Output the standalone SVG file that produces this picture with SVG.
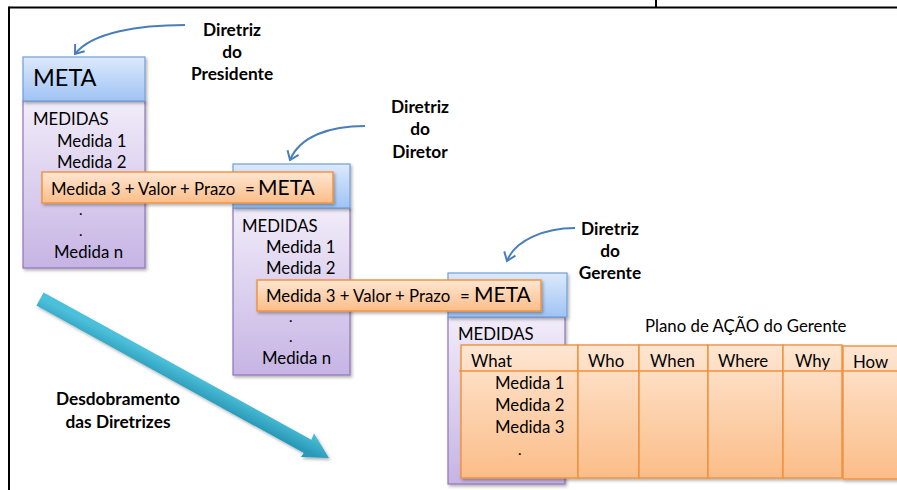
<svg xmlns="http://www.w3.org/2000/svg" width="897" height="490" viewBox="0 0 897 490">
<defs>
<linearGradient id="gBlue" x1="0" y1="0" x2="0" y2="1"><stop offset="0" stop-color="#dde9fc"/><stop offset="1" stop-color="#9fc3f4"/></linearGradient>
<linearGradient id="gPurple" x1="0" y1="0" x2="0" y2="1"><stop offset="0" stop-color="#f1ecf9"/><stop offset="1" stop-color="#c6b4e4"/></linearGradient>
<linearGradient id="gOrange" x1="0" y1="0" x2="0" y2="1"><stop offset="0" stop-color="#fee6d2"/><stop offset="1" stop-color="#fbbd88"/></linearGradient>
<linearGradient id="gTeal" gradientUnits="userSpaceOnUse" x1="180" y1="368" x2="172" y2="384"><stop offset="0" stop-color="#4cc0da"/><stop offset="1" stop-color="#2a9ab8"/></linearGradient>
<filter id="sh" x="-10%" y="-10%" width="130%" height="130%"><feDropShadow dx="1.5" dy="2" stdDeviation="1.5" flood-color="#000" flood-opacity="0.3"/></filter>
<marker id="ah" markerWidth="14" markerHeight="14" refX="10" refY="7" orient="auto" markerUnits="userSpaceOnUse"><path d="M2,1 L10,7 L2,13" fill="none" stroke="#4a7ebb" stroke-width="2"/></marker>
</defs>
<style>
.hdr{fill:url(#gBlue);stroke:#6f9fd8;stroke-width:1.2}
.body{fill:url(#gPurple);stroke:#8f74ba;stroke-width:1.2}
.bar{fill:url(#gOrange);stroke:#f0913e;stroke-width:1.4}
.col{fill:url(#gOrange);stroke:#f0913e;stroke-width:1.4}
.t{font-family:Lato,"Open Sans",sans-serif;font-size:16.8px;fill:#000}
.dot{font-family:Lato,"Open Sans",sans-serif;font-size:15px;fill:#000}
.big{font-family:Lato,"Open Sans",sans-serif;font-size:23.5px;fill:#000}
.meta{font-family:Lato,"Open Sans",sans-serif;font-size:21px;fill:#000}
.b{font-family:Lato,"Open Sans",sans-serif;font-size:17.3px;font-weight:bold;fill:#000;text-anchor:middle}
.cur{fill:none;stroke:#4a7ebb;stroke-width:2;marker-end:url(#ah)}
.frame{stroke:#000;stroke-width:2;fill:none}
</style>
<rect width="897" height="490" fill="#fff"/>
<g id="frame">
<line class="frame" x1="9" y1="7.5" x2="897" y2="7.5"/>
<line class="frame" x1="9" y1="6.5" x2="9" y2="490"/>
<line class="frame" x1="656" y1="0" x2="656" y2="7"/>
</g>

<g id="box-presidente">
<rect class="body" x="23" y="101" width="122" height="167" filter="url(#sh)"/>
<rect class="hdr" x="23" y="57" width="122" height="44" filter="url(#sh)"/>
<text class="big" x="33" y="86">META</text>
<text class="t" x="33" y="125">MEDIDAS</text>
<text class="t" x="57" y="147">Medida 1</text>
<text class="t" x="57" y="168">Medida 2</text>
<text class="dot" x="79" y="215">.</text>
<text class="dot" x="79" y="236">.</text>
<text class="t" x="54" y="258">Medida n</text>
</g>

<g id="box-diretor">
<rect class="body" x="233" y="208" width="117" height="167" filter="url(#sh)"/>
<rect class="hdr" x="233" y="164" width="117" height="44" filter="url(#sh)"/>
<text class="t" x="242" y="232">MEDIDAS</text>
<text class="t" x="266" y="253">Medida 1</text>
<text class="t" x="266" y="274">Medida 2</text>
<text class="dot" x="289" y="322">.</text>
<text class="dot" x="289" y="342">.</text>
<text class="t" x="262" y="364">Medida n</text>
</g>

<g id="bar-presidente">
<rect class="bar" x="42" y="172" width="291" height="31" filter="url(#sh)"/>
<text class="t" x="51" y="195">Medida 3 + Valor + Prazo</text>
<text class="t" x="245" y="195">=</text>
<text class="meta" x="258" y="195">META</text>
</g>

<g id="box-gerente">
<rect class="body" x="448" y="317" width="117" height="167" filter="url(#sh)"/>
<rect class="hdr" x="448" y="273" width="119" height="44" filter="url(#sh)"/>
<text class="t" x="458" y="340">MEDIDAS</text>
</g>

<g id="bar-diretor">
<rect class="bar" x="257" y="280" width="284" height="31" filter="url(#sh)"/>
<text class="t" x="266" y="302">Medida 3 + Valor + Prazo</text>
<text class="t" x="460" y="302">=</text>
<text class="meta" x="474" y="302">META</text>
</g>

<g id="plano">
<text class="t" x="645" y="332">Plano de AÇÃO do Gerente</text>
<g filter="url(#sh)">
<rect class="col" x="461" y="345" width="117" height="133"/>
<rect class="col" x="578" y="345" width="61" height="133"/>
<rect class="col" x="639" y="345" width="69" height="133"/>
<rect class="col" x="708" y="345" width="75" height="133"/>
<rect class="col" x="783" y="345" width="59" height="133"/>
<rect class="col" x="843" y="346" width="60" height="133"/>
</g>
<line x1="459" y1="371" x2="897" y2="371" stroke="#f0913e" stroke-width="1.4"/>
<text class="t" x="471" y="367">What</text>
<text class="t" x="588" y="367">Who</text>
<text class="t" x="650" y="367">When</text>
<text class="t" x="718" y="367">Where</text>
<text class="t" x="795" y="367">Why</text>
<text class="t" x="853" y="368">How</text>
<text class="t" x="495" y="389">Medida 1</text>
<text class="t" x="495" y="411">Medida 2</text>
<text class="t" x="495" y="433">Medida 3</text>
<text class="dot" x="518" y="455">.</text>
</g>

<g id="labels">
<text class="b" x="232" y="36">Diretriz</text>
<text class="b" x="232" y="58">do</text>
<text class="b" x="232" y="80">Presidente</text>
<text class="b" x="420" y="113">Diretriz</text>
<text class="b" x="420" y="135">do</text>
<text class="b" x="420" y="158">Diretor</text>
<text class="b" x="610" y="235">Diretriz</text>
<text class="b" x="610" y="257">do</text>
<text class="b" x="610" y="279">Gerente</text>
<text class="b" x="118" y="405">Desdobramento</text>
<text class="b" x="118" y="428">das Diretrizes</text>
</g>

<g id="connectors">
<path class="cur" d="M185,25 C140,25 92,32 75,54"/>
<path class="cur" d="M365,126 C330,126 300,136 290,160"/>
<path class="cur" d="M575,228 C545,228 515,240 507,261"/>
<polygon points="43.61,292.42 311.36,439.84 314.00,433.27 329,458 300.84,457.10 303.82,452.99 36.39,305.58" fill="url(#gTeal)" filter="url(#sh)"/>
</g>
</svg>
